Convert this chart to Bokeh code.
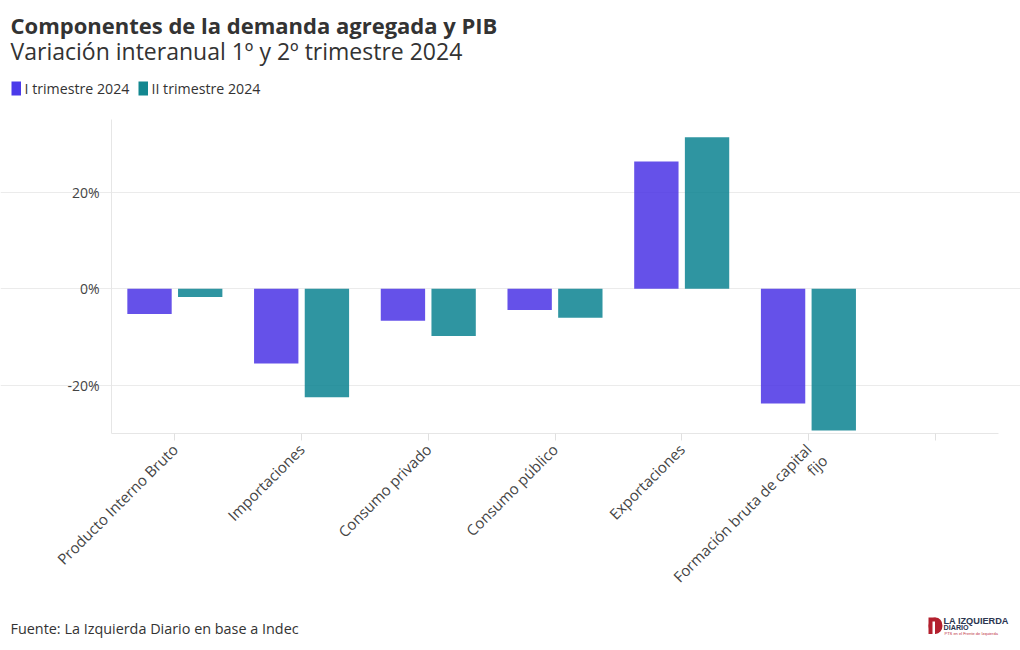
import math
from bokeh.plotting import figure
from bokeh.models import (ColumnDataSource, Range1d, Label, PrintfTickFormatter, FixedTicker)
from bokeh.transform import dodge
from bokeh.embed import file_html
from bokeh.resources import INLINE

categories = ["Producto Interno Bruto", "Importaciones", "Consumo privado",
              "Consumo público", "Exportaciones", "Formación bruta de capital fijo"]
trim_1 = [-5.2, -15.5, -6.6, -4.4, 26.4, -23.8]
trim_2 = [-1.7, -22.5, -9.8, -6.0, 31.4, -29.4]
series_names = ["I trimestre 2024", "II trimestre 2024"]
series_colors = ["#4A33E5", "#0B8391"]
legend_colors = ["#4B3AEA", "#138790"]
y_ticks = [-20, 0, 20]

FONT = "Open Sans"
TXT = "#333333"

# ---- layout (pixels of the canvas) ----
W, H = 1020, 650
FL, FR, FT, FB = 111, 998, 119, 433     # plot area
N = len(categories) + 1                   # one empty slot on the right
Y_MIN, Y_MAX = -30.0, 35.1
U = (FR - FL) / N                         # px per category
V = (FB - FT) / (Y_MAX - Y_MIN)           # px per percent
x0 = -0.5 - FL / U
y1 = Y_MAX + FT / V
y0 = Y_MIN - (H - FB) / V

def px(xp):
    return x0 + xp / U

def py(yp):
    return y1 - yp / V

xs = list(range(len(categories)))
src = ColumnDataSource(dict(x=xs, t1=trim_1, t2=trim_2))

p = figure(width=W, height=H, x_range=Range1d(x0, px(W)), y_range=Range1d(y0, y1),
           output_backend="svg", toolbar_location=None,
           min_border=0, min_border_left=0, min_border_right=0,
           min_border_top=0, min_border_bottom=0)
p.outline_line_color = None
p.background_fill_color = "white"
p.border_fill_color = "white"

r1 = p.vbar(x=dodge("x", -0.2), top="t1", bottom=0, width=0.35, source=src,
            fill_color=series_colors[0], fill_alpha=0.85, line_color=None)
r2 = p.vbar(x=dodge("x", 0.2), top="t2", bottom=0, width=0.35, source=src,
            fill_color=series_colors[1], fill_alpha=0.85, line_color=None)

# ---- axes ----
p.xgrid.grid_line_color = None
p.ygrid.grid_line_color = "#ebebeb"
p.ygrid.ticker = FixedTicker(ticks=y_ticks)
p.ygrid.bounds = (-0.5, N - 0.5)

p.yaxis.fixed_location = -0.5
p.yaxis.bounds = (Y_MIN, Y_MAX)
p.yaxis.ticker = FixedTicker(ticks=y_ticks)
p.yaxis.formatter = PrintfTickFormatter(format="%d%%")
p.yaxis.major_tick_line_color = None
p.yaxis.minor_tick_line_color = None
p.yaxis.axis_line_color = "#e6e6e6"
p.yaxis.major_label_text_font = FONT
p.yaxis.major_label_text_font_size = "14px"
p.yaxis.major_label_text_color = "#444444"
p.yaxis.major_label_standoff = 6

p.xaxis.fixed_location = Y_MIN
p.xaxis.bounds = (-0.5, N - 0.5)
p.xaxis.ticker = FixedTicker(ticks=list(range(N)))
labels = {i: c for i, c in enumerate(categories)}
labels[5] = "Formación bruta de capital"
labels[6] = ""
p.xaxis.major_label_overrides = labels
p.xaxis.minor_tick_line_color = None
p.xaxis.axis_line_color = "#e6e6e6"
p.xaxis.major_tick_line_color = "#e0e0e0"
p.xaxis.major_tick_out = 7
p.xaxis.major_tick_in = 0
p.xaxis.major_label_orientation = math.pi / 4
p.xaxis.major_label_text_font = FONT
p.xaxis.major_label_text_font_size = "15px"
p.xaxis.major_label_text_color = "#444444"
p.xaxis.major_label_standoff = 6

# second line of the last category label
p.add_layout(Label(x=5, y=Y_MIN, x_offset=9, y_offset=-17, text="fijo", angle=math.pi / 4,
                   text_font=FONT, text_font_size="15px", text_color="#444444",
                   text_align="right", text_baseline="top"))

def lab(text, xp, yp, size, style="normal", color=TXT, font=FONT, baseline="middle", align="left"):
    p.add_layout(Label(x=px(xp), y=py(yp), text=text,
                       text_font=font, text_font_size=size, text_font_style=style,
                       text_color=color, text_baseline=baseline, text_align=align))

lab("Componentes de la demanda agregada y PIB", 10, 24, "22px", "bold")
lab("Variación interanual 1º y 2º trimestre 2024", 10, 50, "23px")
lab("Fuente: La Izquierda Diario en base a Indec", 10, 628, "14.4px")

# legend
sw_x = [11, 138]
tx_x = [24, 151]
p.quad(left=[px(a) for a in sw_x], right=[px(a + 9.5) for a in sw_x],
       top=[py(81)] * 2, bottom=[py(95)] * 2, fill_color=legend_colors, line_color=None)
for name, xx in zip(series_names, tx_x):
    lab(name, xx, 88, "14.2px")

# logo
p.quad(left=[px(928)], right=[px(935)], top=[py(617)], bottom=[py(633.5)],
       fill_color="#b3202e", line_color=None)
p.ellipse(x=[px(935)], y=[py(625.2)], width=14 / U, height=16.5 / V,
          fill_color="#b3202e", line_color=None)
p.quad(left=[px(932)], right=[px(934.5)], top=[py(621)], bottom=[py(633.5)],
       fill_color="white", line_color=None)
lab("LA IZQUIERDA", 943, 620.5, "9.2px", "bold", color="#2b3550", font="Liberation Sans")
lab("DIARIO", 943, 627.2, "7.2px", "bold", color="#2b3550", font="Liberation Sans")
lab("PTS en el Frente de Izquierda", 944, 633, "4px", color="#c0303e", font="Liberation Sans")

open("out.html", "w").write(file_html(p, INLINE))
